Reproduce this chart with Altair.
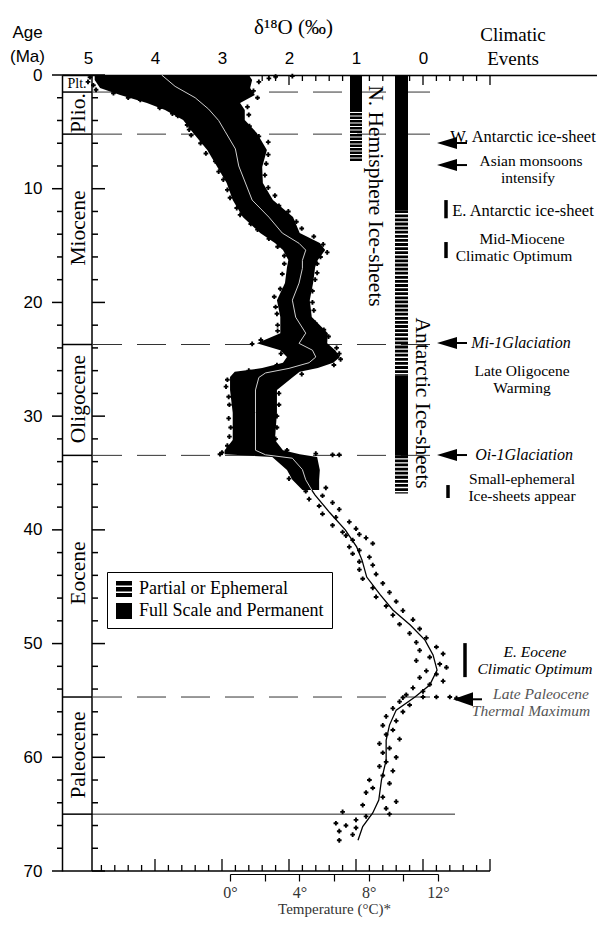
import altair as alt
import pandas as pd

SERIF = "Liberation Serif"
SANS = "Liberation Sans"

# ---------------- axis values ----------------
age_labels = [0, 10, 20, 30, 40, 50, 60, 70]
age_minor = [a for a in range(2, 70, 2) if a % 10]
d18o_labels = [5, 4, 3, 2, 1, 0]
d18o_major = [4, 3, 2, 1, 0, -1]
d18o_minor = [(48 - 2 * i) / 10 for i in range(30) if (48 - 2 * i) % 10]
temp_ticks = [0, 2, 4, 6, 8, 10, 12]

# ---------------- epochs ----------------
epoch_names = ["Plio.", "Miocene", "Oligocene", "Eocene", "Paleocene"]
epoch_mid = [3.35, 13.45, 28.5, 43.8, 59.8]
epoch_bounds = [0, 1.5, 5.2, 23.7, 33.45, 54.7, 65.0]
dashed_ages = [1.5, 5.2, 23.7, 33.45, 54.7]
kpg_age = [65.0]

# ---------------- d18O cloud envelope (dense part) ----------------
env_age = [0.0, 0.44, 1.14, 1.76, 2.46, 3.08, 3.96, 5.10, 6.60, 8.09, 9.50, 11.0,
           12.49, 13.9, 14.78, 15.4, 16.27, 16.9, 18.3, 19.8, 21.28, 22.7, 23.6,
           24.2, 24.8, 25.3, 25.77, 26.1, 26.56, 27.7, 29.7, 32.1, 33.0, 33.35,
           33.6, 34.74, 35.6, 36.5]
env_high = [4.90, 4.90, 4.82, 4.52, 4.12, 3.85, 3.58, 3.43, 3.22, 3.07, 2.93, 2.84,
            2.69, 2.43, 2.21, 2.09, 2.01, 2.03, 2.06, 2.18, 2.13, 2.13, 2.48,
            2.13, 2.03, 2.09, 2.40, 2.81, 2.88, 2.88, 2.84, 2.84, 2.96, 2.96,
            2.25, 2.03, 1.95, 1.80]
env_low = [2.60, 2.55, 2.58, 2.51, 2.73, 2.66, 2.66, 2.48, 2.33, 2.40, 2.39, 2.24,
           1.94, 1.84, 1.54, 1.46, 1.57, 1.61, 1.64, 1.69, 1.66, 1.42, 1.43,
           1.31, 1.24, 1.34, 1.57, 1.84, 1.94, 2.18, 2.18, 2.21, 2.09, 1.84,
           1.58, 1.54, 1.55, 1.55]

# ---------------- smoothed curve ----------------
curve_age = [0, 1.0, 2.0, 3.0, 4.0, 5.0, 6.5, 8.0, 9.5, 11.0, 12.5, 13.9, 14.8, 15.4,
             16.3, 17.0, 18.3, 19.8, 21.3, 22.7, 23.6, 24.2, 24.8, 25.3, 25.8, 26.2,
             26.6, 27.7, 29.7, 32.1, 33.0, 33.4, 33.7, 34.7, 35.6, 36.5, 36.94, 38.5,
             40.0, 41.5, 42.66, 44.15, 45.7, 47.05, 48.37, 49.7, 51.0, 52.33, 53.65,
             54.7, 55.85, 57.17, 58.5, 60.25, 62.0, 63.76, 64.9, 66.1, 67.3]
curve_d = [3.9, 3.7, 3.4, 3.2, 3.05, 2.95, 2.8, 2.75, 2.65, 2.55, 2.3, 2.1, 1.85, 1.75,
           1.8, 1.8, 1.85, 1.95, 1.9, 1.75, 1.85, 1.65, 1.6, 1.7, 2.0, 2.35,
           2.45, 2.5, 2.5, 2.5, 2.5, 2.35, 1.95, 1.8, 1.75, 1.66, 1.61, 1.39,
           1.16, 0.99, 0.91, 0.84, 0.64, 0.45, 0.19, -0.03, -0.15, -0.21, -0.10,
           0.12, 0.40, 0.50, 0.55, 0.55, 0.62, 0.66, 0.75, 0.90, 0.97]

# ---------------- individual measurements (read as + marks) ----------------
edge_pts = [(0.2, 4.97), (0.6, 5.0), (0.9, 4.92), (1.3, 4.88), (1.6, 4.62), (2.0, 4.4),
            (2.2, 4.22), (2.9, 3.93), (3.4, 3.74), (3.6, 3.66), (4.4, 3.52), (4.8, 3.49),
            (5.3, 3.46), (6.0, 3.32), (6.9, 3.24), (7.6, 3.1), (8.5, 3.05), (9.2, 2.98),
            (10.1, 2.92), (10.8, 2.88), (11.7, 2.78), (12.3, 2.73), (13.1, 2.57), (13.6, 2.47),
            (14.4, 2.3), (15.1, 2.17), (15.9, 2.07), (16.6, 2.07), (17.5, 2.1), (18.8, 2.13),
            (19.5, 2.22), (20.4, 2.2), (21.0, 2.18), (22.0, 2.17), (22.5, 2.17), (23.3, 2.42),
            (23.65, 2.55), (24.5, 2.12), (25.5, 2.18), (26.0, 2.6), (26.8, 2.92), (27.4, 2.94),
            (28.3, 2.9), (29.0, 2.89), (30.2, 2.9), (31.0, 2.87), (31.8, 2.89), (32.6, 2.92),
            (33.2, 3.0), (33.35, 3.03),
            (0.1, 1.95), (0.15, 2.2), (0.3, 2.3), (0.6, 2.45), (1.4, 2.53), (2.0, 2.47),
            (2.8, 2.62), (3.5, 2.6), (4.5, 2.59), (5.4, 2.45), (5.9, 2.31), (7.0, 2.31),
            (7.8, 2.34), (8.8, 2.36), (9.9, 2.31), (10.6, 2.21), (11.5, 2.15), (12.0, 2.01),
            (12.9, 1.89), (13.5, 1.81), (14.2, 1.63), (14.9, 1.49), (15.6, 1.43), (16.0, 1.53),
            (16.6, 1.58), (17.4, 1.58), (18.0, 1.61), (19.0, 1.65), (20.0, 1.65), (20.7, 1.63),
            (21.8, 1.61), (22.4, 1.48), (23.0, 1.41), (24.0, 1.29), (24.5, 1.25), (25.0, 1.23),
            (25.5, 1.33), (26.3, 1.81), (27.0, 2.13), (28.0, 2.15), (29.0, 2.15), (30.0, 2.18),
            (31.0, 2.18), (32.0, 2.2), (33.0, 2.03), (33.3, 1.6), (33.4, 1.35), (33.4, 1.25)]
sparse_pts = [(34.2, 1.95), (34.5, 1.6), (34.9, 1.9), (35.2, 1.65), (35.5, 2.0), (35.8, 1.85),
              (36.0, 1.6), (36.3, 1.45), (36.6, 1.75), (37.0, 1.5), (37.3, 1.7), (37.6, 1.35),
              (37.9, 1.55), (38.2, 1.25), (38.6, 1.5), (38.9, 1.3), (39.3, 1.1), (39.6, 1.35),
              (39.9, 1.0), (40.2, 1.2), (40.4, 0.95), (40.5, 1.15), (40.7, 0.85), (40.9, 1.05),
              (41.2, 0.75), (41.5, 1.1), (41.8, 0.95), (42.1, 1.05), (42.4, 0.8), (42.8, 0.95),
              (43.1, 0.75), (43.5, 0.95), (43.9, 0.7), (44.3, 0.9), (44.7, 0.6), (45.1, 0.75),
              (45.5, 0.5), (45.9, 0.7), (46.3, 0.4), (46.7, 0.55), (47.1, 0.3), (47.5, 0.45),
              (47.9, 0.15), (48.3, 0.35), (48.7, 0.05), (49.1, 0.2), (49.5, -0.05), (49.9, 0.1),
              (50.3, -0.2), (50.6, 0.05), (50.9, -0.3), (51.2, -0.1), (51.5, 0.1), (51.8, -0.25),
              (52.1, -0.35), (52.4, -0.05), (52.7, -0.2), (53.0, 0.05), (53.3, -0.3), (53.6, -0.1),
              (53.9, 0.15), (54.2, 0.0), (54.5, 0.25), (54.7, -0.4), (54.7, -0.2), (54.7, 0.0),
              (54.75, 0.3), (54.8, -0.5), (55.1, 0.35), (55.4, 0.2), (55.7, 0.45), (56.0, 0.3),
              (56.4, 0.55), (56.8, 0.4), (57.2, 0.6), (57.6, 0.45), (58.0, 0.55), (58.4, 0.35),
              (58.8, 0.65), (59.2, 0.5), (59.6, 0.6), (60.0, 0.4), (60.4, 0.55), (60.8, 0.65),
              (61.2, 0.45), (61.6, 0.6), (62.0, 0.8), (62.3, 0.5), (62.7, 0.75), (63.1, 0.85),
              (63.5, 0.6), (63.9, 0.4), (64.2, 0.9), (64.5, 0.55), (64.8, 1.2), (65.0, 0.5),
              (65.2, 0.85), (65.5, 1.0), (65.8, 1.3), (66.0, 1.15), (66.2, 1.0), (66.5, 1.25),
              (66.8, 1.05), (67.3, 1.25)]

# ---------------- ice sheets ----------------
FULL = "Full Scale and Permanent"
PART = "Partial or Ephemeral"
legend_kinds = [PART, FULL]
nh_from = [0.0, 3.35]
nh_to = [3.25, 7.65]
nh_kind = [FULL, PART]
ant_from = [0.0, 11.9, 26.4, 33.45]
ant_to = [11.9, 26.4, 33.45, 36.8]
ant_kind = [FULL, PART, FULL, PART]

# ---------------- layout ----------------
W, H = 535, 796
XDOM = [5.388, -2.597]
XS = alt.Scale(domain=XDOM, nice=False, zero=False)
YS = alt.Scale(domain=[0, 70], reverse=True, nice=False, zero=False)

X_AXIS = alt.Axis(orient="top", values=d18o_labels, ticks=False, tickSize=0, domain=True,
                  domainColor="black", domainWidth=1.5, labelFont=SANS, labelFontSize=17,
                  labelColor="black", labelPadding=8, labelOverlap=False, labelFlush=False,
                  grid=False, title="δ¹⁸O (‰)", titleFont=SERIF, titleFontSize=21,
                  titleFontWeight="normal", titleColor="black", titleX=231, titleY=-48,
                  titleAngle=0, titleAlign="center", titleBaseline="middle")
Y_AXIS = alt.Axis(orient="left", values=age_labels, ticks=False, tickSize=0, domain=True,
                  domainColor="black", domainWidth=1.5, labelFont=SANS, labelFontSize=17,
                  labelColor="black", labelPadding=20, labelOverlap=False, grid=False,
                  title=None)


def Xq(f):
    return alt.X(f, type="quantitative", scale=XS, axis=X_AXIS)


def Yq(f):
    return alt.Y(f, type="quantitative", scale=YS, axis=Y_AXIS)


def df(**cols):
    return pd.DataFrame(cols)


layers = []
K = "black"

# dashed epoch lines and K/Pg line
layers.append(alt.Chart(df(age=dashed_ages)).mark_rule(color="#333", strokeWidth=1, strokeDash=[29, 15])
              .encode(y=Yq("age"), x=alt.value(31), x2=alt.value(373)))
layers.append(alt.Chart(df(age=kpg_age)).mark_rule(color="#222", strokeWidth=1)
              .encode(y=Yq("age"), x=alt.value(30), x2=alt.value(393)))

# epoch column
layers.append(alt.Chart(df(age=epoch_bounds)).mark_rule(color=K, strokeWidth=1.5)
              .encode(y=Yq("age"), x=alt.value(0), x2=alt.value(30)))
layers.append(alt.Chart(df(a=[0], b=[70])).mark_rule(color=K, strokeWidth=1.5)
              .encode(y=Yq("a"), y2=alt.Y2("b"), x=alt.value(30)))

# age ticks (left of axis and right of epoch column)
for data, x1, x2 in [(age_labels, -10, 0), (age_minor, -5, 0), (age_labels, 30, 43), (age_minor, 30, 36)]:
    layers.append(alt.Chart(df(age=data)).mark_rule(color=K, strokeWidth=1.5)
                  .encode(y=Yq("age"), x=alt.value(x1), x2=alt.value(x2)))

# d18O ticks on top (pointing down) and bottom (pointing up)
for data, y1, y2 in [(d18o_major, 0, 10), (d18o_minor, 0, 6), (d18o_major, H, H - 12), (d18o_minor, H, H - 6)]:
    layers.append(alt.Chart(df(d=data)).mark_rule(color=K, strokeWidth=1.3)
                  .encode(x=Xq("d"), y=alt.value(y1), y2=alt.value(y2)))
layers.append(alt.Chart(df(a=[XDOM[0]], b=[-1.0])).mark_rule(color=K, strokeWidth=1.5)
              .encode(x=Xq("a"), x2=alt.X2("b"), y=alt.value(H)))

# dense cloud of measurements
layers.append(alt.Chart(df(age=env_age, hi=env_high, lo=env_low)).mark_area(orient="horizontal", color=K)
              .encode(y=Yq("age"), x=Xq("hi"), x2=alt.X2("lo")))
pts = edge_pts + sparse_pts
layers.append(alt.Chart(df(age=[p[0] for p in pts], d=[p[1] for p in pts]))
              .mark_point(shape="cross", filled=True, size=22, color=K, opacity=1)
              .encode(y=Yq("age"), x=Xq("d")))

# smoothed curve
curve = df(age=curve_age, d=curve_d)
layers.append(alt.Chart(curve).transform_filter("datum.age <= 36.5")
              .mark_line(color="#cfcfcf", strokeWidth=1)
              .encode(y=Yq("age"), x=Xq("d"), order=alt.Order("age:Q")))
layers.append(alt.Chart(curve).transform_filter("datum.age >= 36.5")
              .mark_line(color=K, strokeWidth=1.3)
              .encode(y=Yq("age"), x=Xq("d"), order=alt.Order("age:Q")))

# ice-sheet bars
nh = df(a=nh_from, b=nh_to, kind=nh_kind)
ant = df(a=ant_from, b=ant_to, kind=ant_kind)
for data, xc, w, dash in [(nh, 294, 12, [2.3, 1.2]), (ant, 339.5, 13, [2.8, 1.3])]:
    layers.append(alt.Chart(data).transform_filter(alt.datum.kind == FULL)
                  .mark_rule(color=K, strokeWidth=w)
                  .encode(y=Yq("a"), y2=alt.Y2("b"), x=alt.value(xc)))
    layers.append(alt.Chart(data).transform_filter(alt.datum.kind == PART)
                  .mark_rule(color=K, strokeWidth=w, strokeDash=dash)
                  .encode(y=Yq("a"), y2=alt.Y2("b"), x=alt.value(xc)))


def note(text, age, x, size=15.5, italic=False, color=K, font=SERIF, angle=0, align="center"):
    return (alt.Chart(df(age=[age], label=[text]))
            .mark_text(font=font, fontSize=size, fontStyle="italic" if italic else "normal",
                       color=color, align=align, baseline="middle", angle=angle)
            .encode(y=Yq("age"), x=alt.value(x), text="label:N"))


def header(text, x, y, size, font):
    return (alt.Chart(df(label=[text]))
            .mark_text(font=font, fontSize=size, color=K, align="center", baseline="middle")
            .encode(x=alt.value(x), y=alt.value(y), text="label:N"))


def vbar(a, b, x):
    return (alt.Chart(df(a=[a], b=[b])).mark_rule(color=K, strokeWidth=3.5)
            .encode(y=Yq("a"), y2=alt.Y2("b"), x=alt.value(x)))


def arrow(age, x, shaft_to, half=0.6):
    path = f"M-1,0L1,-{half}L1,{half}Z"
    head = (alt.Chart(df(age=[age])).mark_point(shape=path, filled=True, size=400, color=K, opacity=1)
            .encode(y=Yq("age"), x=alt.value(x)))
    shaft = (alt.Chart(df(age=[age])).mark_rule(color=K, strokeWidth=2)
             .encode(y=Yq("age"), x=alt.value(x + 8), x2=alt.value(shaft_to)))
    return [shaft, head]


# epoch labels
layers.append(note("Plt.", 0.75, 15, size=14))
for name, mid in zip(epoch_names, epoch_mid):
    layers.append(note(name, mid, 17, size=21.5, angle=270))

# ice-sheet labels
layers.append(note("N. Hemisphere Ice-sheets", 10.64, 313, size=21.5, angle=90))
layers.append(note("Antarctic Ice-sheets", 28.85, 360, size=21.5, angle=90))

# climatic events
layers += arrow(5.98, 385, 405)
layers += arrow(7.92, 385, 405)
layers += arrow(23.57, 385, 405)
layers += arrow(33.42, 385, 405)
layers += arrow(54.9, 401, 420, half=0.7)
layers.append(vbar(11.0, 12.6, 384))
layers.append(vbar(14.69, 16.1, 384))
layers.append(vbar(36.06, 37.2, 386))
layers.append(vbar(49.96, 52.95, 403))
layers.append(note("W. Antarctic ice-sheet", 5.45, 461, size=16.5))
layers.append(note("Asian monsoons", 7.55, 469))
layers.append(note("intensify", 9.1, 466))
layers.append(note("E. Antarctic ice-sheet", 11.96, 461, size=16.5))
layers.append(note("Mid-Miocene", 14.4, 460))
layers.append(note("Climatic Optimum", 15.95, 452))
layers.append(note("Mi-1Glaciation", 23.57, 459, size=16, italic=True))
layers.append(note("Late Oligocene", 26.0, 460))
layers.append(note("Warming", 27.55, 460))
layers.append(note("Oi-1Glaciation", 33.42, 462, size=16, italic=True))
layers.append(note("Small-ephemeral", 35.5, 460))
layers.append(note("Ice-sheets appear", 37.05, 460))
layers.append(note("E. Eocene", 50.7, 473, italic=True))
layers.append(note("Climatic Optimum", 52.25, 473, italic=True))
layers.append(note("Late Paleocene", 54.4, 479, italic=True, color="#555"))
layers.append(note("Thermal Maximum", 55.95, 469, italic=True, color="#555"))

# headers
layers.append(header("Age", -34.5, -42, 17, SANS))
layers.append(header("(Ma)", -34.5, -18, 17, SANS))
layers.append(header("Climatic", 451, -40, 19, SERIF))
layers.append(header("Events", 451, -16, 19, SERIF))

# legend (shape symbols: striped vs solid)
STRIPES = "M-1,-1H1V-0.45H-1Z M-1,-0.25H1V0.3H-1Z M-1,0.5H1V1H-1Z"
layers.append(alt.Chart(df(kind=legend_kinds)).mark_point(filled=True, opacity=0, color=K)
              .encode(shape=alt.Shape("kind:N",
                                      scale=alt.Scale(domain=legend_kinds, range=[STRIPES, "square"]),
                                      legend=alt.Legend(orient="none", legendX=45, legendY=497, title=None,
                                                        padding=8, strokeColor="black", fillColor="white",
                                                        symbolSize=256, symbolFillColor="black",
                                                        symbolStrokeWidth=0, symbolOpacity=1,
                                                        labelFont=SERIF, labelFontSize=18, labelColor="black",
                                                        labelOffset=6, rowPadding=4, labelLimit=300))))

main = alt.layer(*layers)

# temperature axis (independent scale)
temp_layer = (alt.Chart(df(T=temp_ticks)).mark_point(opacity=0)
              .encode(x=alt.X("T:Q",
                              scale=alt.Scale(domain=[0, 12], range=[168, 376], nice=False, zero=False),
                              axis=alt.Axis(orient="bottom", values=temp_ticks, offset=3, tickSize=7,
                                            tickColor="black", tickWidth=1.2, domainColor="black",
                                            domainWidth=1.2,
                                            labelExpr="datum.value % 4 == 0 ? datum.value + '°' : ''",
                                            labelFont=SERIF, labelFontSize=16, labelColor="#333",
                                            labelPadding=3, labelOverlap=False, labelFlush=False,
                                            grid=False, title="Temperature (°C)*", titleFont=SERIF,
                                            titleFontSize=15, titleFontWeight="normal", titleColor="#333",
                                            titlePadding=1)),
                      y=alt.value(0)))

chart = (alt.layer(main, temp_layer)
         .resolve_scale(x="independent")
         .properties(width=W, height=H,
                     padding={"left": 54, "top": 67, "right": 0, "bottom": 47},
                     autosize=alt.AutoSizeParams(type="none"))
         .configure_view(strokeWidth=0))

chart.save("out.html", embed_options={"renderer": "svg", "actions": False})
